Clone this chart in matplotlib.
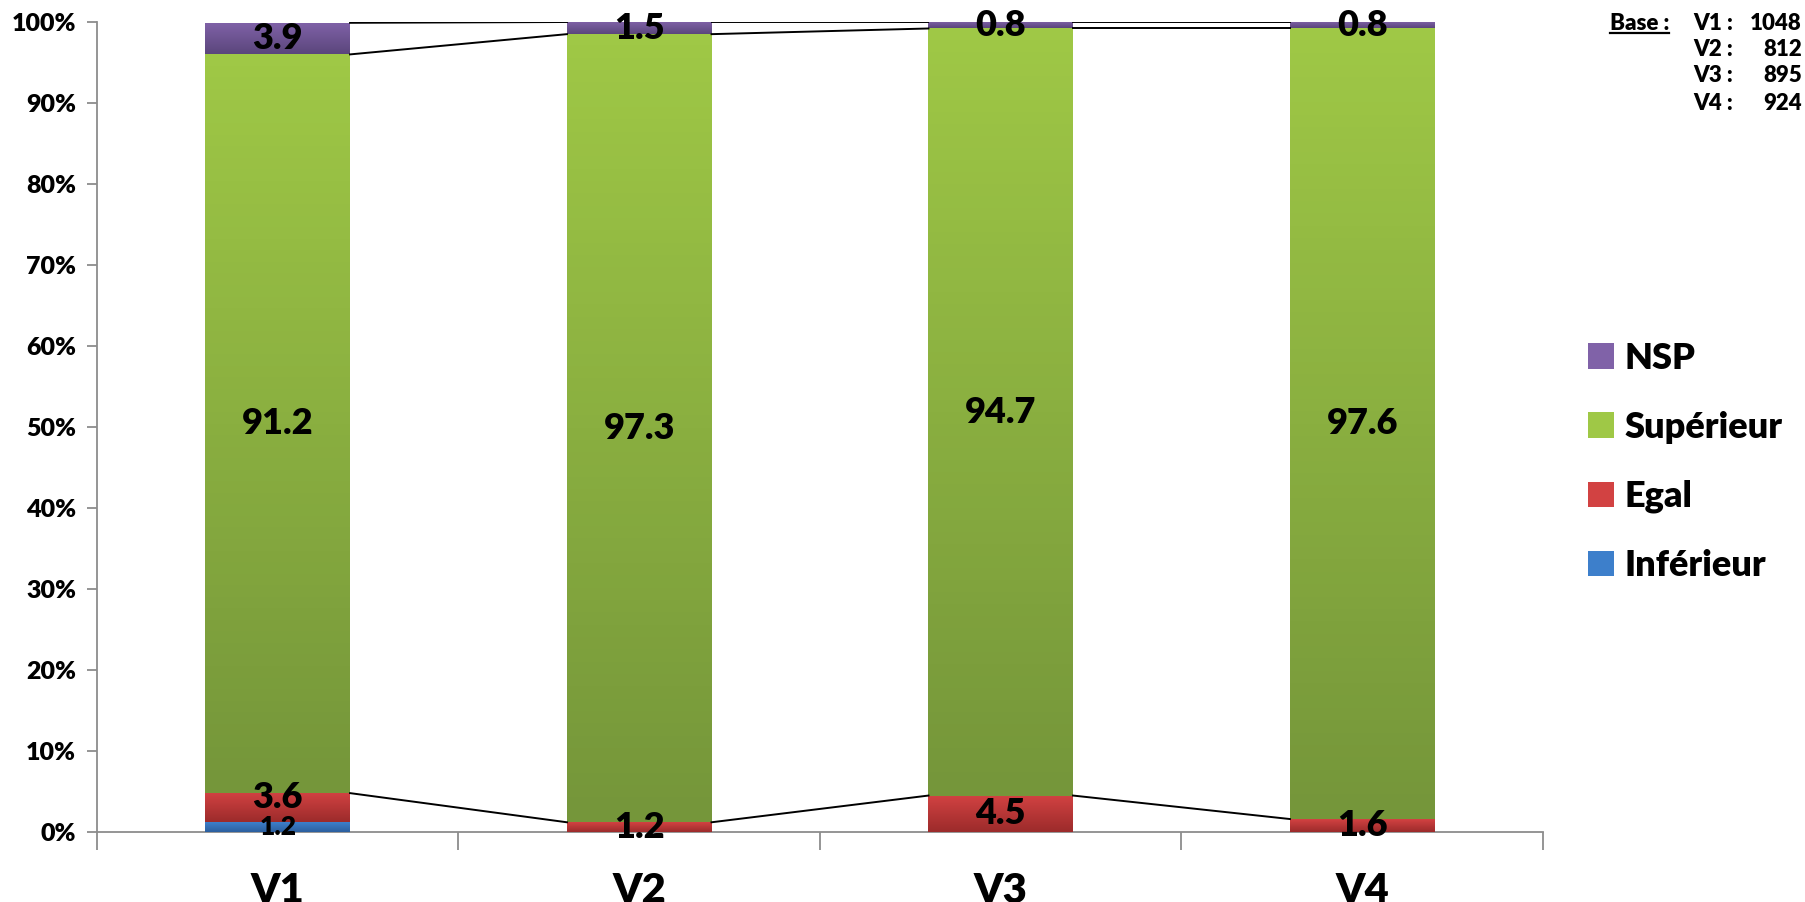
import matplotlib
matplotlib.use("Agg")
import matplotlib.pyplot as plt
import numpy as np
from matplotlib.patches import Patch
from matplotlib.colors import LinearSegmentedColormap
from matplotlib.lines import Line2D

plt.rcParams['font.family'] = ['Lato', 'DejaVu Sans']
plt.rcParams['font.weight'] = 'heavy'
W = 'heavy'

# données (en %)
vagues = ["V1", "V2", "V3", "V4"]
inferieur = [1.2, 0, 0, 0]
egal = [3.6, 1.2, 4.5, 1.6]
superieur = [91.2, 97.3, 94.7, 97.6]
nsp = [3.9, 1.5, 0.8, 0.8]
bases = [1048, 812, 895, 924]

series = [("Inférieur", inferieur, "#3D7FCB", "#2C5F9E"),
          ("Egal", egal, "#D24242", "#9C2B2B"),
          ("Supérieur", superieur, "#9FC846", "#75963A"),
          ("NSP", nsp, "#8062A8", "#5B467C")]

fig = plt.figure(figsize=(18.06, 9.02), dpi=100)
ax = fig.add_axes([97 / 1806, 70 / 902, 1446 / 1806, 810 / 902])

x = np.arange(len(vagues))
w = 0.40
bottom = np.zeros(len(vagues))
last_label = np.full(len(vagues), -10.0)
tops = []
for name, vals, c_top, c_bot in series:
    vals = np.array(vals, dtype=float)
    bars = ax.bar(x, vals, w, bottom=bottom, color=c_top, linewidth=0, zorder=2)
    cmap = LinearSegmentedColormap.from_list(name, [c_bot, c_top])
    grad = np.linspace(0, 1, 64).reshape(-1, 1)
    for i, (b, v) in enumerate(zip(bars, vals)):
        if v <= 0:
            continue
        x0, y0 = b.get_x(), b.get_y()
        im = ax.imshow(grad, cmap=cmap, origin="lower", aspect="auto",
                       extent=[x0, x0 + b.get_width(), y0, y0 + b.get_height()],
                       zorder=3)
        im.set_clip_path(b)
        # valeur au centre du segment, décalée si trop proche de la précédente
        ylab = max(y0 + v / 2, last_label[i] + 3.7)
        last_label[i] = ylab
        fs = 19 if name == "Inférieur" else 26
        ax.text(x0 + b.get_width() / 2, ylab, f"{v:.1f}",
                ha="center", va="center", fontsize=fs, fontweight=W,
                color="black", zorder=5)
    bottom = bottom + vals
    tops.append((name, bottom.copy()))

# lignes de série entre les barres
for name, level in tops:
    if name == "Inférieur":
        continue
    for i in range(len(vagues) - 1):
        ax.plot([x[i] + w / 2, x[i + 1] - w / 2], [level[i], level[i + 1]],
                color="black", lw=1.4, zorder=4)

ax.set_xlim(-0.5, 3.5)
ax.set_ylim(0, 100)
for s in ["top", "right"]:
    ax.spines[s].set_visible(False)
for s in ["left", "bottom"]:
    ax.spines[s].set_color("#8C8C8C")
    ax.spines[s].set_linewidth(1.3)

ax.set_yticks(np.arange(0, 101, 10))
ax.set_yticklabels([f"{t}%" for t in range(0, 101, 10)], fontsize=18, fontweight=W)
ax.tick_params(axis="y", length=7, width=1.3, color="#8C8C8C", pad=8)

ax.set_xticks(np.arange(-0.5, 3.6, 1.0))
ax.set_xticklabels([])
ax.tick_params(axis="x", which="major", length=13, width=1.3, color="#8C8C8C")
ax.set_xticks(x, minor=True)
ax.set_xticklabels(vagues, minor=True, fontsize=30, fontweight=W)
ax.tick_params(axis="x", which="minor", length=0, pad=29)

# légende
handles = [Patch(facecolor=s[2], edgecolor="none") for s in series][::-1]
labels = [s[0] for s in series][::-1]
fig.legend(handles, labels, loc="center left", bbox_to_anchor=(1574 / 1806, 1 - 462 / 902),
           frameon=False, handlelength=0.7, handleheight=0.7,
           handletextpad=0.3, labelspacing=1.0, borderaxespad=0,
           prop={"weight": W, "size": 26})

# effectifs
fy = [1 - 23 / 902, 1 - 50 / 902, 1 - 76 / 902, 1 - 103 / 902]
t_base = fig.text(1610 / 1806, fy[0], "Base :", ha="left", va="center", fontsize=16, fontweight=W)
for i, (v, n) in enumerate(zip(vagues, bases)):
    fig.text(1693 / 1806, fy[i], f"{v} :", ha="left", va="center", fontsize=16, fontweight=W)
    fig.text(1802 / 1806, fy[i], f"{n}", ha="right", va="center", fontsize=16, fontweight=W)

r = fig.canvas.get_renderer()
bb = t_base.get_window_extent(renderer=r).transformed(fig.transFigure.inverted())
fig.add_artist(Line2D([bb.x0, bb.x1], [bb.y0 + 0.001, bb.y0 + 0.001], color="black", lw=1.6))

fig.savefig("out.png", dpi=100, facecolor="white")
